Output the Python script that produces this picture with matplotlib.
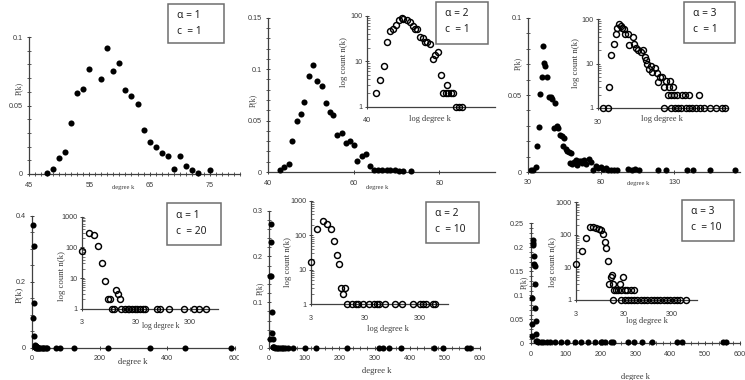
import matplotlib
matplotlib.use('Agg')
import matplotlib.pyplot as plt
from matplotlib.ticker import MultipleLocator, LogLocator, NullFormatter, NullLocator
from matplotlib.patches import Rectangle
from matplotlib.transforms import Bbox

# ---------------- data ----------------
# panel 1 (alpha=1, c=1)
k1 = [48, 49, 50, 51, 52, 53, 54, 55, 57, 58, 59, 60, 61, 62, 63, 64, 65, 66, 67, 68, 69, 70, 71, 72, 73, 75]
p1 = [0.001, 0.004, 0.012, 0.016, 0.0375, 0.059, 0.062, 0.077, 0.069, 0.092, 0.075, 0.081, 0.061,
      0.057, 0.051, 0.032, 0.023, 0.020, 0.015, 0.013, 0.004, 0.013, 0.006, 0.003, 0.001, 0.003]

# panel 2 (alpha=2, c=1)
k2 = [42.7, 43.7, 44.8, 45.7, 46.7, 47.7, 48.5, 49.6, 50.5, 51.5, 52.5, 53.5, 54.4, 55.2, 56.1, 57.2,
      58.1, 59.1, 60.0, 60.8, 61.9, 62.8, 63.8, 64.7, 65.7, 66.7, 67.7, 68.6, 69.6, 70.6, 71.5, 73.4]
p2 = [0.0016, 0.0045, 0.008, 0.030, 0.050, 0.056, 0.068, 0.093, 0.104, 0.088, 0.084, 0.067, 0.058,
      0.055, 0.036, 0.038, 0.028, 0.030, 0.0265, 0.011, 0.016, 0.0175, 0.006, 0.002, 0.002, 0.002,
      0.002, 0.002, 0.002, 0.001, 0.0006, 0.0006]
k2_in = [42.4, 43.4, 44.5, 45.4, 46.2, 47.3, 48.1, 48.9, 49.8, 50.4, 51.5, 52.4, 53.4, 54.3, 55.0, 56.0,
         56.9, 57.7, 58.5, 59.5, 60.6, 61.4, 62.7, 63.9, 64.8, 65.8, 66.4, 66.9, 68.0, 69.0, 70.5, 71.8, 73.2]
n2_in = [2, 3.9, 7.8, 27, 46, 51, 64, 80, 90, 85, 80, 71, 60, 51, 51, 34, 32, 26, 26, 23.5, 11, 14, 16,
         5, 2, 2, 3, 2, 2, 2, 1, 1, 1]

# panel 3 (alpha=3, c=1)
k3 = [31.8, 33.7, 35.3, 36.2, 37.3, 38.4, 39.6, 40.3, 41.2, 41.9, 43.0, 44.1, 45.5, 46.6, 48.7, 47.8,
      49.6, 50.8, 52.1, 53.3, 54.7, 54.2, 55.8, 56.9, 58.3, 59.7, 59.0, 60.3, 61.5, 62.6, 63.8, 64.9,
      66.1, 67.2, 68.4, 69.9, 71.8, 72.9, 74.5, 76.4, 78.0, 79.8, 81.4, 83.2, 84.8, 87.1, 88.9, 91.2,
      98.5, 100.8, 103.5, 106.0, 118.6, 124.1, 138.5, 142.8, 154.5, 171.3]
p3 = [0.001, 0.001, 0.003, 0.0167, 0.029, 0.0507, 0.062, 0.082, 0.071, 0.069, 0.062, 0.049, 0.0485,
      0.0474, 0.045, 0.0286, 0.0297, 0.0286, 0.0242, 0.0232, 0.022, 0.0167, 0.015, 0.0134, 0.0128,
      0.0123, 0.0058, 0.0052, 0.0065, 0.0076, 0.0048, 0.0069, 0.0074, 0.0058, 0.008, 0.0052, 0.0084,
      0.0065, 0.0015, 0.0037, 0.0026, 0.003, 0.002, 0.0024, 0.0015, 0.0013, 0.001, 0.001, 0.002,
      0.0015, 0.002, 0.0015, 0.001, 0.001, 0.001, 0.001, 0.001, 0.001]
k3_in = [31.9, 34.1, 34.7, 35.7, 37.0, 37.9, 38.8, 39.6, 40.6, 41.3, 42.3, 43.0, 44.6, 45.6, 47.6, 48.7,
         49.8, 51.0, 52.8, 54.5, 55.8, 57.1, 57.8, 59.1, 60.5, 61.8, 63.8, 65.6, 66.9, 68.3, 70.6, 72.6,
         74.4, 76.8, 78.6, 81.2, 75.8, 79.4, 82.1, 86.0, 91.3, 95.4, 100.7, 115.2,
         72.3, 79.6, 83.4, 86.7, 90.7, 96.1, 100.7, 105.3, 110.6, 115.9, 122.7, 132.4, 143.4, 155.1, 162.3]
n3_in = [1, 1, 3, 15.4, 26.8, 47, 62, 77, 71, 62, 59, 45, 45, 26, 40, 27, 22.6, 20, 17.7, 20, 14, 12,
         10, 7.7, 8.8, 6.3, 8, 6, 3.9, 5, 5, 3, 4, 3, 4, 3, 2, 2, 2, 2, 2, 2, 2, 2,
         1, 1, 1, 1, 1, 1, 1, 1, 1, 1, 1, 1, 1, 1, 1]

# panel 4 (alpha=1, c=20)
k4 = [3, 4, 5, 6, 7, 8, 9, 10, 11, 13, 14, 15, 16, 19, 22, 25, 29, 32, 36, 40, 44, 72, 82, 124, 225,
      350, 452, 588]
p4 = [0.09, 0.372, 0.308, 0.137, 0.036, 0.009, 0.0025, 0.0025, 0.0012, 0.005, 0.004, 0.0025,
      0.0012, 0.0012, 0.0012, 0.0012, 0.0012, 0.0012, 0.0012, 0.0012, 0.0012, 0.0012, 0.0012,
      0.0012, 0.0012, 0.0012, 0.0012, 0.0012]
k4_in = [3, 4, 5, 6, 7, 8, 9, 10, 13, 14, 15, 11, 12, 16, 19, 21, 22, 25, 29, 32, 36, 40, 44, 74, 83,
         125, 231, 356, 449, 595]
n4_in = [78, 300, 247, 113, 30, 8, 2, 2, 4, 3, 2, 1, 1, 1, 1, 1, 1, 1, 1, 1, 1, 1, 1, 1, 1, 1, 1, 1, 1, 1]

# panel 5 (alpha=2, c=10)
k5 = [3, 4, 5, 6, 7, 8, 9, 10, 11, 12, 13, 17, 22, 27, 31, 36, 41, 45, 55, 69, 102, 133, 221, 313,
      325, 342, 375, 470, 496, 562, 572]
p5 = [0.019, 0.158, 0.272, 0.232, 0.158, 0.078, 0.032, 0.019, 0.003, 0.002, 0.003,
      0.001, 0.001, 0.001, 0.001, 0.001, 0.001, 0.001, 0.001, 0.001, 0.001, 0.001, 0.001, 0.001,
      0.001, 0.001, 0.001, 0.001, 0.001, 0.001, 0.001]
k5_in = [3, 4, 5, 6, 7, 8, 9, 10, 11, 12, 13, 14, 17, 20, 22, 28, 36, 44, 50, 55, 71, 105, 141, 231,
         305, 344, 386, 536, 584]
n5_in = [17, 152, 265, 217, 152, 70, 27, 15, 3, 2, 3, 1, 1, 1, 1, 1, 1, 1, 1, 1, 1, 1, 1, 1, 1, 1,
         1, 1, 1]

# panel 6 (alpha=3, c=10)
k6 = [3, 4, 5, 6, 7, 8, 9, 10, 11, 12, 13, 14, 15, 16, 17, 22, 29, 36, 46, 55, 70, 87, 103, 127,
      144, 165, 184, 202, 205, 213, 229, 237, 280, 297, 318, 347, 418, 433, 550, 560]
p6 = [0.016, 0.04, 0.095, 0.215, 0.21, 0.205, 0.182, 0.165, 0.161, 0.123, 0.073, 0.047, 0.019,
      0.005, 0.004, 0.003, 0.002, 0.002, 0.002, 0.002, 0.002, 0.002, 0.002, 0.002, 0.002, 0.002,
      0.002, 0.002, 0.002, 0.002, 0.002, 0.002, 0.002, 0.002, 0.002, 0.002, 0.002, 0.002, 0.002, 0.002]
k6_in = [3, 4, 5, 6, 7, 8, 9, 10, 11, 12, 13, 14,
         15, 16, 17, 18, 19, 21, 23, 25, 27, 29, 32, 35, 42, 49,
         18, 26, 32, 37, 43, 50, 58, 68, 80, 94, 110, 128, 150, 175, 205, 240, 280, 330, 385, 450, 600]
n6_in = [13, 32, 78, 175, 170, 160, 150, 137, 110, 62, 40, 16,
         3, 5, 6, 3, 2, 2, 2, 3, 2, 5, 2, 2, 2, 2,
         1, 1, 1, 1, 1, 1, 1, 1, 1, 1, 1, 1, 1, 1, 1, 1, 1, 1, 1, 1, 1]

alphas = ['1', '2', '3', '1', '2', '3']
cs = ['1', '1', '1', '20', '10', '10']

# ---------------- drawing ----------------
W, H = 745, 380
fig = plt.figure(figsize=(W / 100, H / 100), dpi=100)
fig.patch.set_facecolor('white')

AX = '#404040'
TC = '#3a3a3a'
TICK_FONT = ['Liberation Sans', 'DejaVu Sans']
LAB_FONT = ['Liberation Serif', 'DejaVu Serif']
TS = 5.2


def add_ax(box):
    x0, y0, x1, y1 = box
    ax = fig.add_axes([x0 / W, 1 - y1 / H, (x1 - x0) / W, (y1 - y0) / H])
    ax.patch.set_alpha(0)
    for s in ['top', 'right']:
        ax.spines[s].set_visible(False)
    for s in ['left', 'bottom']:
        ax.spines[s].set_color(AX)
        ax.spines[s].set_linewidth(0.9)
    return ax


def style_ticklabels(ax):
    for lab in ax.get_xticklabels() + ax.get_yticklabels():
        lab.set_family(TICK_FONT)


def ftext(x, y, s, size, rot=0, family=LAB_FONT):
    fig.text(x / W, 1 - y / H, s, ha='center', va='center', fontsize=size, rotation=rot,
             family=family, color=TC)


def main_panel(box, xlim, ylim, xt, xtl, yt, ytl, xminor, yminor, k, p,
               xlab, xls, ylab, yls, xpad=4.0):
    ax = add_ax(box)
    ax.set_xlim(xlim)
    ax.set_ylim(ylim)
    ax.set_xticks(xt, labels=xtl)
    ax.set_yticks(yt, labels=ytl)
    if xminor:
        ax.xaxis.set_minor_locator(MultipleLocator(xminor))
    if yminor:
        ax.yaxis.set_minor_locator(MultipleLocator(yminor))
    ax.tick_params(which='major', direction='inout', length=3.5, width=0.7, color=AX,
                   labelsize=TS, labelcolor=TC)
    ax.tick_params(axis='x', which='major', pad=xpad)
    ax.tick_params(axis='y', which='major', pad=3.0)
    ax.tick_params(which='minor', direction='inout', length=2.2, width=0.6, color=AX)
    style_ticklabels(ax)
    ax.plot(k, p, 'o', color='black', ms=4.4, mew=0, clip_on=False, zorder=5)
    ftext(xlab[0], xlab[1], 'degree k', xls)
    ftext(ylab[0], ylab[1], 'P(k)', yls, rot=90)
    return ax


def inset_panel(box, xlim, ylim, xt, xtl, yt, ytl, k, n, xlab, ylab, xpad=6.2, xls=6.0):
    ax = add_ax(box)
    ax.set_xscale('log')
    ax.set_yscale('log')
    ax.set_xlim(xlim)
    ax.set_ylim(ylim)
    ax.set_xticks(xt, labels=xtl)
    ax.xaxis.set_minor_locator(NullLocator())
    ax.set_yticks(yt, labels=ytl)
    ax.yaxis.set_minor_locator(LogLocator(base=10, subs=range(2, 10)))
    ax.yaxis.set_minor_formatter(NullFormatter())
    ax.tick_params(which='major', direction='inout', length=3.0, width=0.7, color=AX,
                   labelsize=TS, labelcolor=TC)
    ax.tick_params(axis='x', which='major', pad=xpad)
    ax.tick_params(axis='y', which='major', pad=1.5)
    ax.tick_params(which='minor', direction='in', length=1.8, width=0.5, color=AX)
    style_ticklabels(ax)
    ax.plot(k, n, 'o', mfc='none', mec='black', ms=4.3, mew=1.05, clip_on=False, zorder=5)
    ftext(xlab[0], xlab[1], 'log degree k', xls)
    ftext(ylab[0], ylab[1], 'log count n(k)', 6.3, rot=90)
    return ax


def legend_box(box, a, c):
    x0, y0, x1, y1 = box
    rect = Rectangle((x0 / W, 1 - y1 / H), (x1 - x0) / W, (y1 - y0) / H, transform=fig.transFigure,
                     facecolor='white', edgecolor='#6e6e6e', linewidth=1.1, zorder=10)
    fig.add_artist(rect)
    fam = ['Noto Sans', 'DejaVu Sans']
    fig.text((x0 + 9) / W, 1 - (y0 + 12) / H, '\u03b1 = ' + a, ha='left', va='center',
             fontsize=7.4, family=fam, color='#222222', zorder=11)
    fig.text((x0 + 9) / W, 1 - (y0 + 28) / H, 'c  = ' + c, ha='left', va='center',
             fontsize=7.4, family=fam, color='#222222', zorder=11)


# ---- top row ----
main_panel((29, 37, 240, 174), (45, 80), (0, 0.1), [45, 55, 65, 75], ['45', '55', '65', '75'],
           [0, 0.05, 0.1], ['0', '0.05', '0.1'], 1, 0.01, k1, p1,
           (123, 188), 4.7, (19, 88), 5.5)
legend_box((168, 4, 224, 43), alphas[0], cs[0])

main_panel((268, 17.7, 495, 172), (40, 93), (0, 0.15), [40, 60, 80], ['40', '60', '80'],
           [0, 0.05, 0.1, 0.15], ['0', '0.05', '0.1', '0.15'], None, 0.01, k2, p2,
           (377, 187), 4.7, (253, 100), 5.5)
inset_panel((367, 15.7, 495, 106.7), (40, 90), (1, 100), [40], ['40'], [1, 10, 100], ['1', '10', '100'],
            k2_in, n2_in, (430, 119), (344, 62))
legend_box((436, 2, 488, 44), alphas[1], cs[1])

main_panel((528, 18, 740, 172), (30, 175), (0, 0.1), [30, 80, 130], ['30', '80', '130'],
           [0, 0.05, 0.1], ['0', '0.05', '0.1'], None, 0.01, k3, p3,
           (638, 184), 4.7, (518, 63), 5.5, xpad=3.5)
inset_panel((598, 19, 728, 108), (30, 169), (1, 100), [30], ['30'], [1, 10, 100], ['1', '10', '100'],
            k3_in, n3_in, (662, 119), (576, 63))
legend_box((684, 2, 735, 43), alphas[2], cs[2])

# ---- bottom row ----
ax4 = main_panel((32, 215.7, 235, 348), (0, 600), (0, 0.4), [0, 200, 400, 600], ['0', '200', '400', '600'],
                 [0, 0.2, 0.4], ['0', '0.2', '0.4'], None, 0.05, k4, p4,
                 (133, 362), 6.2, (19, 295), 6.8, xpad=3.5)
clip = Bbox.from_extents(0, 0, 239, H)
for t in ax4.xaxis.get_major_ticks():
    t.label1.set_clip_box(clip)
    t.label1.set_clip_on(True)
inset_panel((82, 216.7, 218, 308.7), (3, 1000), (1, 1000), [3, 30, 300], ['3', '30', '300'],
            [1, 10, 100, 1000], ['1', '10', '100', '1000'], k4_in, n4_in, (161, 326), (62, 276),
            xls=5.5)
legend_box((167, 203, 221, 245), alphas[3], cs[3])

main_panel((269, 210.7, 480, 348), (0, 600), (0, 0.3), [0, 100, 200, 300, 400, 500, 600],
           ['0', '100', '200', '300', '400', '500', '600'],
           [0, 0.1, 0.2, 0.3], ['0', '0.1', '0.2', '0.3'], 20, 0.02, k5, p5,
           (377, 371), 6.2, (260, 288), 5.6, xpad=3.5)
inset_panel((310.7, 200.7, 448, 304.3), (3, 1000), (1, 1000), [3, 30, 300], ['3', '30', '300'],
            [1, 10, 100, 1000], ['1', '10', '100', '1000'], k5_in, n5_in, (388, 329), (288, 262))
legend_box((426, 202, 479, 243), alphas[4], cs[4])

main_panel((530.7, 223.3, 740, 343.3), (0, 600), (0, 0.25), [0, 100, 200, 300, 400, 500, 600],
           ['0', '100', '200', '300', '400', '500', '600'],
           [0, 0.05, 0.1, 0.15, 0.2, 0.25], ['0', '0.05', '0.1', '0.15', '0.2', '0.25'], 20, 0.01, k6, p6,
           (635, 377), 6.0, (524, 282), 5.6, xpad=3.5)
inset_panel((575.7, 202.3, 696.7, 300), (3, 1000), (1, 1000), [3, 30, 300], ['3', '30', '300'],
            [1, 10, 100, 1000], ['1', '10', '100', '1000'], k6_in, n6_in, (647, 321), (553, 262))
legend_box((682, 200, 734, 241), alphas[5], cs[5])

fig.savefig('out.png', dpi=100, facecolor='white')
